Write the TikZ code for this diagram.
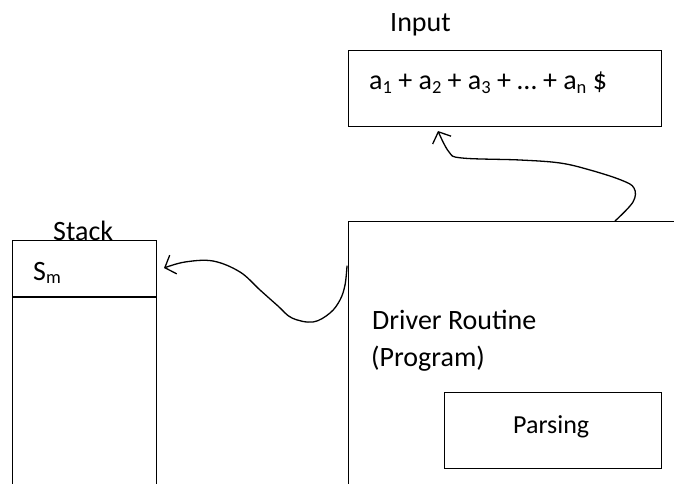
\documentclass[tikz,border=0pt]{standalone}
\usepackage{fontspec}
\setmainfont{Carlito}
\usetikzlibrary{arrows.meta}
\newcommand\mysub[1]{\raisebox{-0.14em}{\fontsize{18.5}{19}\selectfont #1}}
\begin{document}
\begin{tikzpicture}[x=1pt,y=-1pt,
  box/.style={draw, line width=1.4pt, inner sep=0pt, anchor=north west},
  lbl/.style={anchor=base west, inner sep=0pt, font=\fontsize{28}{30}\selectfont},
  hand/.style={line width=1.3pt, line join=round, line cap=round,
    -{Straight Barb[length=9pt,width=20pt,line width=1.3pt]}}]
\useasboundingbox (0,0) rectangle (674,484);
% boxes
\node[box, minimum width=313pt, minimum height=76pt] (inp) at (348,50) {};
\node[box, minimum width=420pt, minimum height=320pt] (drv) at (348,221) {};
\node[box, minimum width=144pt, minimum height=320pt] (stk) at (12,240) {};
\draw[line width=1.4pt] ([yshift=-57pt]stk.north west) -- ([yshift=-57pt]stk.north east);
\node[box, minimum width=217pt, minimum height=76pt] (prs) at (444,392) {};
% texts
\node[lbl] (tin) at (390,32) {Input};
\node[lbl] (seq) at (369,90) {a\mysub{1} + a\mysub{2} + a\mysub{3} + … + a\mysub{n} \$};
\node[lbl] (tstk) at (53,240) {Stack};
\node[lbl] (sm) at (33,280) {S\mysub{m}};
\node[lbl] (tdr) at (372,329) {Driver Routine};
\node[lbl] (tpg) at (371,366) {(Program)};
\node[lbl, font=\fontsize{26}{28}\selectfont] (tps) at (513,433) {Parsing};
% connectors
\coordinate (d1) at (615,221);
\coordinate (e1) at (438,131);
\coordinate (d2) at (347,266);
\coordinate (e2) at (164,268);
\draw[hand] plot[smooth, tension=0.6] coordinates {(d1) (633,202) (634,188) (621,180) (590,170) (560,163) (520,160) (462,158) (449,152) (e1)};
\draw[hand] plot[smooth, tension=0.6] coordinates {(d2) (345,285) (340,300) (330,313) (313,322) (292,318) (278,306) (260,290) (240,272) (213,261) (185,262) (e2)};
\end{tikzpicture}
\end{document}
